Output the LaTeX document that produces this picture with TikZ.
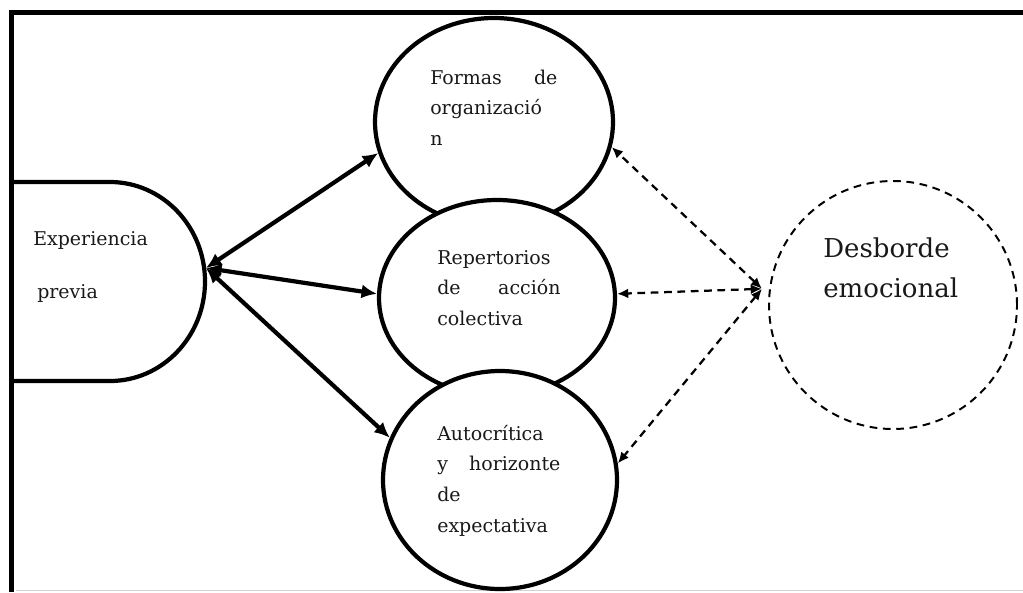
\documentclass[tikz,border=0pt]{standalone}
\usepackage{fontspec}
\setmainfont{DejaVu Serif}
\usetikzlibrary{shapes.geometric, arrows.meta}

\begin{document}
\begin{tikzpicture}[
    burbuja/.style = {draw, ellipse, line width=3pt, fill=white, inner sep=0pt},
    texto/.style = {anchor=base west, inner sep=0pt, text=black!90},
    flecha/.style = {{Latex[length=11pt,width=10pt]}-{Latex[length=11pt,width=10pt]}, line width=3pt},
    flechad/.style = {{Latex[length=8pt,width=7pt]}-{Latex[length=8pt,width=7pt]}, line width=1.6pt, dash pattern=on 5.5pt off 4pt}
  ]
  \useasboundingbox (0,0) rectangle (25.575,-14.8);
  % marco
  \draw [line width=3.2pt] (0.29,-14.8)--(0.29,-0.3125)--(25.575,-0.3125);
  \draw [gray!35, line width=0.8pt] (0.4,-14.77)--(25.575,-14.77);
  % experiencia previa
  \draw [line width=3pt] (0.29,-4.55)--(2.75,-4.55) arc [start angle=90, end angle=-90, x radius=2.375, y radius=2.4875]--(0.29,-9.525);
  \coordinate (exptip) at (5.15,-6.7);
  \node [texto] (texp) at (0.825,-6.125) {\parbox[t]{3cm}{\fontsize{13.5pt}{38.4pt}\selectfont Experiencia\\\hspace*{0.1cm}previa}};
  % elipses
  \node [burbuja, minimum width=5.95cm, minimum height=5.2cm] (forma) at (12.35,-3.05) {};
  \node [burbuja, minimum width=5.9cm, minimum height=4.9cm] (repertorio) at (12.425,-7.45) {};
  \node [burbuja, minimum width=5.85cm, minimum height=5.45cm] (autocritica) at (12.5,-12.0) {};
  \node [texto] (tforma) at (10.75,-2.1) {\parbox[t]{3.18cm}{\fontsize{13.5pt}{22pt}\selectfont Formas\hfill de\\organizació\\n}};
  \node [texto] (trepertorio) at (10.925,-6.6) {\parbox[t]{3.08cm}{\fontsize{13.5pt}{22pt}\selectfont Repertorios\\de\hfill acción\\colectiva}};
  \node [texto] (tautocritica) at (10.925,-11.0) {\parbox[t]{3.08cm}{\fontsize{13.5pt}{22pt}\selectfont Autocrítica\\y\hfill horizonte\\de\\expectativa}};
  % desborde emocional
  \node [draw, circle, minimum size=6.2cm, inner sep=0pt, line width=1.4pt, dash pattern=on 5.5pt off 4pt] (desborde) at (22.325,-7.625) {};
  \node [texto] (tdesborde) at (20.575,-6.425) {\parbox[t]{4cm}{\fontsize{18.5pt}{28.5pt}\selectfont Desborde\\emocional}};
  \coordinate (emotip) at (19.05,-7.22);
  % flechas
  \draw [flecha] (exptip)--(forma.195);
  \draw [flecha] (exptip)--(repertorio.178);
  \draw [flecha] (exptip)--(autocritica.159);
  \draw [flechad] (emotip)--(forma.348);
  \draw [flechad] (emotip)--(repertorio.2);
  \draw [flechad] (emotip)--(autocritica.8);
\end{tikzpicture}
\end{document}
